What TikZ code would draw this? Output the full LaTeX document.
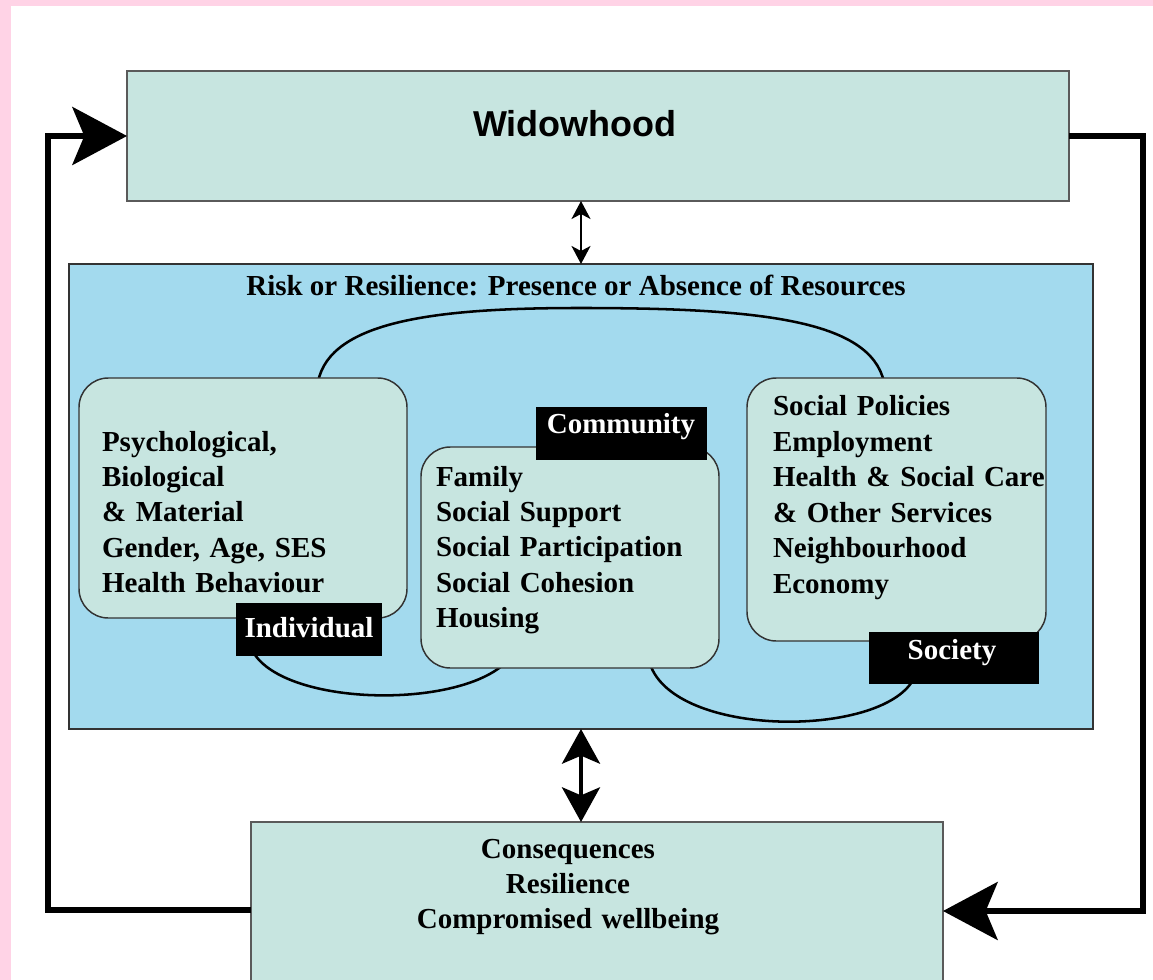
\documentclass[tikz,border=0pt]{standalone}
\usepackage{fontspec}
\setmainfont{Liberation Serif}
\newfontfamily\headfont{Liberation Sans}
\usetikzlibrary{arrows.meta,fit}
\definecolor{pinkbg}{HTML}{FFD3E6}
\definecolor{tealfill}{HTML}{C7E5E0}
\definecolor{bluefill}{HTML}{A3DAEE}
\definecolor{edgegray}{HTML}{5A5A5A}
\definecolor{edgedark}{HTML}{333333}

\begin{document}
\begin{tikzpicture}[x=0.75pt,y=-0.75pt,
  every node/.style={inner sep=0pt,outer sep=0pt},
  flatbox/.style={fit={#1},draw=edgegray,line width=1.5pt,fill=tealfill},
  roundbox/.style={fit={#1},draw=edgedark,line width=1.1pt,fill=tealfill,rounded corners=22pt},
  tagbox/.style={fit={#1},fill=black},
  bodytxt/.style={font=\fontsize{21.75pt}{26.6pt}\selectfont\bfseries,align=left,text width=#1,anchor=base west},
  tagtxt/.style={font=\fontsize{21.75pt}{26.6pt}\selectfont\bfseries,text=white,anchor=base},
  ring/.style={line width=1.9pt,draw=black},
  loop/.style={line width=4pt,line join=miter,-{Stealth[length=41pt,width=43.5pt,inset=9pt]}},
  thinlink/.style={line width=1.5pt,{Stealth[length=13.5pt,width=14.25pt,inset=3.75pt]}-{Stealth[length=13.5pt,width=14.25pt,inset=3.75pt]}},
  thicklink/.style={line width=3pt,{Stealth[length=26pt,width=28.5pt,inset=6pt]}-{Stealth[length=26pt,width=28.5pt,inset=6pt]}}
]
\useasboundingbox (0,0) rectangle (1153,980);
% page background with pink margin
\fill[pinkbg] (0,0) rectangle (1153,980);
\fill[white] (11,6) rectangle (1153,980);

% outer boxes
\node[flatbox={(127,71)(1069,201)}] (wid) {};
\node[font=\headfont\bfseries\fontsize{27pt}{30pt}\selectfont] (widtxt) at (575,124) {Widowhood};
\node[fit={(69,264)(1093,729)},draw=edgedark,line width=1.5pt,fill=bluefill] (risk) {};
\node[flatbox={(251,822)(943,990)}] (cons) {};

\node[font=\fontsize{21.75pt}{26.6pt}\selectfont\bfseries,anchor=base] (risktitle) at (576,296)
  {Risk or Resilience: Presence or Absence of Resources};

% rings linking the three levels
\draw[ring] (318,382) .. controls (330,320) and (440,308) .. (580,308)
            .. controls (760,308) and (870,320) .. (884,382);
\draw[ring] (252,650) .. controls (280,705) and (450,710) .. (503,665);
\draw[ring] (650,664) .. controls (675,738) and (880,738) .. (913,680);

% level boxes
\node[roundbox={(79,378)(407,618)}] (indiv) {};
\node[roundbox={(421,447)(719,668)}] (comm) {};
\node[roundbox={(747,378)(1046,641)}] (soc) {};

\node[bodytxt=300pt] (indtxt) at (102,451)
  {Psychological,\\Biological\\\& Material\\Gender, Age, SES\\Health Behaviour};
\node[bodytxt=250pt] (comtxt) at (436,486)
  {Family\\Social Support\\Social Participation\\Social Cohesion\\Housing};
\node[bodytxt=250pt] (soctxt) at (773,416)
  {Social Policies\\Employment\\Health \& Social Care\\\& Other Services\\Neighbourhood\\Economy};

% black level tags
\node[tagbox={(236,603)(382,656)}] (indtag) {};
\node[tagtxt] (indtagtxt) at (309,637) {Individual};
\node[tagbox={(536,407)(707,460)}] (comtag) {};
\node[tagtxt] (comtagtxt) at (621,433) {Community};
\node[tagbox={(869,632)(1039,684)}] (soctag) {};
\node[tagtxt] (soctagtxt) at (952,659) {Society};

\node[font=\fontsize{21.75pt}{26.6pt}\selectfont\bfseries,align=center,text width=300pt,anchor=base] (constxt) at (568,858)
  {Consequences\\Resilience\\Compromised wellbeing};

% links between the outer boxes
\draw[thinlink] (risk.north |- wid.south) -- (risk.north);
\draw[thicklink] (risk.south) -- (risk.south |- cons.north);

% feedback loops
\coordinate (lb) at (48,910);
\coordinate (lt) at (48,136);
\coordinate (rt) at (1143,136);
\coordinate (rb) at (1143,911);
\draw[loop] (lb -| cons.west) -- (lb) -- (lt) -- (wid.west);
\draw[loop] (wid.east) -- (rt) -- (rb) -- (rb -| cons.east);
\end{tikzpicture}
\end{document}
